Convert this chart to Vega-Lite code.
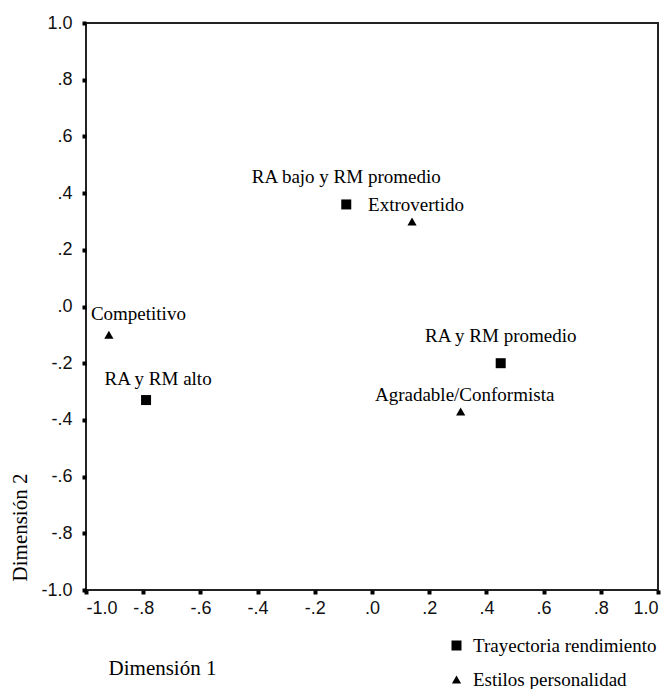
{
  "$schema": "https://vega.github.io/schema/vega-lite/v6.json",
  "width": 572,
  "height": 567,
  "autosize": {"type": "none"},
  "padding": {"left": 86, "top": 23, "right": 13, "bottom": 99},
  "background": "white",
  "data": {
    "values": [
      {"etiqueta": "RA bajo y RM promedio", "grupo": "Trayectoria rendimiento", "d1": -0.09, "d2": 0.36},
      {"etiqueta": "RA y RM promedio", "grupo": "Trayectoria rendimiento", "d1": 0.45, "d2": -0.2},
      {"etiqueta": "RA y RM alto", "grupo": "Trayectoria rendimiento", "d1": -0.79, "d2": -0.33},
      {"etiqueta": "Extrovertido", "grupo": "Estilos personalidad", "d1": 0.14, "d2": 0.3},
      {"etiqueta": "Competitivo", "grupo": "Estilos personalidad", "d1": -0.92, "d2": -0.1},
      {"etiqueta": "Agradable/Conformista", "grupo": "Estilos personalidad", "d1": 0.31, "d2": -0.37}
    ]
  },
  "config": {
    "view": {"stroke": "#222", "strokeWidth": 2},
    "axis": {
      "grid": false,
      "domain": false,
      "tickSize": 4,
      "tickWidth": 4,
      "tickColor": "#000",
      "labelFont": "Liberation Sans",
      "labelFontSize": 18,
      "labelColor": "#111",
      "titleFont": "Liberation Serif",
      "titleFontSize": 21,
      "titleFontWeight": "normal",
      "titleColor": "#000"
    },
    "legend": {
      "orient": "none",
      "legendX": 361,
      "legendY": 613,
      "labelFont": "Liberation Serif",
      "labelFontSize": 19,
      "labelColor": "#000",
      "labelOffset": 7,
      "labelLimit": 400,
      "rowPadding": 14,
      "symbolFillColor": "#000",
      "symbolStrokeWidth": 0,
      "padding": 0
    }
  },
  "layer": [
    {
      "mark": {"type": "point", "filled": true, "opacity": 1, "color": "#000"},
      "encoding": {
        "x": {
          "field": "d1", "type": "quantitative",
          "scale": {"domain": [-1, 1], "nice": false, "zero": false},
          "axis": {
            "values": [-1, -0.8, -0.6, -0.4, -0.2, 0, 0.2, 0.4, 0.6, 0.8, 1],
            "labelExpr": "(datum.value < 0 ? '-' : '') + replace(format(abs(datum.value), '.1f'), '0.', '.')",
            "labelPadding": 5,
            "title": "Dimensión 1",
            "titleX": 76,
            "titleY": 78,
            "titleAlign": "center",
            "titleBaseline": "middle",
            "titleAnchor": null
          }
        },
        "y": {
          "field": "d2", "type": "quantitative",
          "scale": {"domain": [-1, 1], "nice": false, "zero": false},
          "axis": {
            "values": [-1, -0.8, -0.6, -0.4, -0.2, 0, 0.2, 0.4, 0.6, 0.8, 1],
            "labelExpr": "(datum.value < 0 ? '-' : '') + replace(format(abs(datum.value), '.1f'), '0.', '.')",
            "labelPadding": 10,
            "title": "Dimensión 2",
            "titleX": -66,
            "titleY": 504,
            "titleAngle": 270,
            "titleAlign": "center",
            "titleBaseline": "middle",
            "titleAnchor": null
          }
        },
        "shape": {
          "field": "grupo", "type": "nominal",
          "scale": {"domain": ["Trayectoria rendimiento", "Estilos personalidad"], "range": ["square", "triangle-up"]},
          "legend": {"title": null}
        },
        "size": {
          "field": "grupo", "type": "nominal",
          "scale": {"domain": ["Trayectoria rendimiento", "Estilos personalidad"], "range": [100, 85]},
          "legend": {"title": null}
        }
      }
    },
    {
      "transform": [{"filter": "datum.grupo == 'Trayectoria rendimiento' && datum.etiqueta != 'RA y RM alto'"}],
      "mark": {"type": "text", "font": "Liberation Serif", "fontSize": 19, "color": "#000", "align": "center", "baseline": "middle", "dy": -27},
      "encoding": {
        "x": {"field": "d1", "type": "quantitative"},
        "y": {"field": "d2", "type": "quantitative"},
        "text": {"field": "etiqueta"}
      }
    },
    {
      "transform": [{"filter": "datum.etiqueta == 'RA y RM alto'"}],
      "mark": {"type": "text", "font": "Liberation Serif", "fontSize": 19, "color": "#000", "align": "center", "baseline": "middle", "dx": 12, "dy": -21},
      "encoding": {
        "x": {"field": "d1", "type": "quantitative"},
        "y": {"field": "d2", "type": "quantitative"},
        "text": {"field": "etiqueta"}
      }
    },
    {
      "transform": [{"filter": "datum.grupo == 'Estilos personalidad' && datum.etiqueta != 'Competitivo'"}],
      "mark": {"type": "text", "font": "Liberation Serif", "fontSize": 19, "color": "#000", "align": "center", "baseline": "middle", "dx": 4, "dy": -16},
      "encoding": {
        "x": {"field": "d1", "type": "quantitative"},
        "y": {"field": "d2", "type": "quantitative"},
        "text": {"field": "etiqueta"}
      }
    },
    {
      "transform": [{"filter": "datum.etiqueta == 'Competitivo'"}],
      "mark": {"type": "text", "font": "Liberation Serif", "fontSize": 19, "color": "#000", "align": "left", "baseline": "middle", "dx": -18, "dy": -21},
      "encoding": {
        "x": {"field": "d1", "type": "quantitative"},
        "y": {"field": "d2", "type": "quantitative"},
        "text": {"field": "etiqueta"}
      }
    }
  ]
}
